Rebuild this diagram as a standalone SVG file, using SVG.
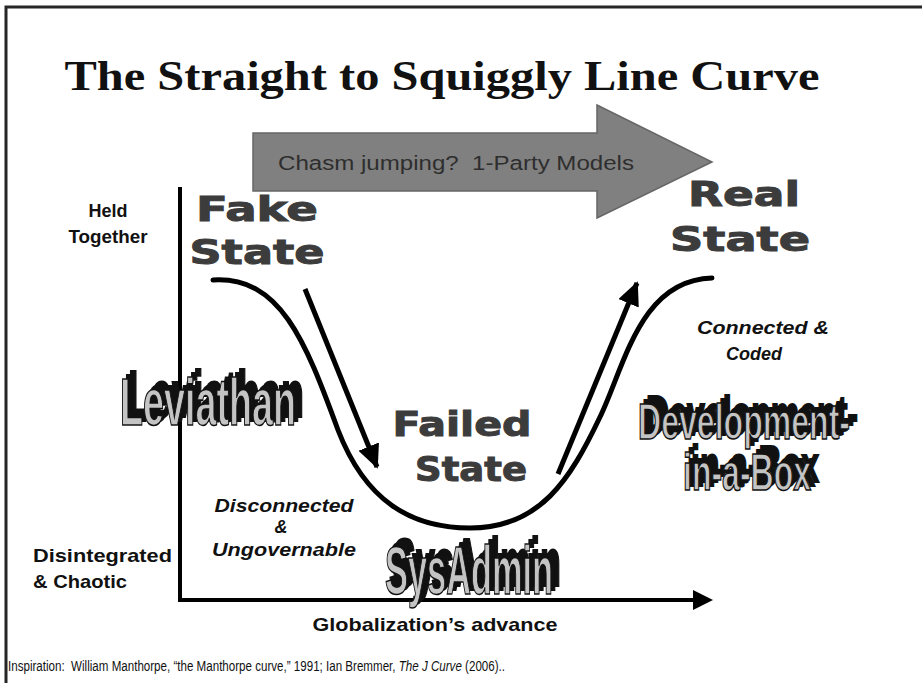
<svg xmlns="http://www.w3.org/2000/svg" width="922" height="683" viewBox="0 0 922 683">
<style>
.title{font-family:"Liberation Serif","Times New Roman",serif;font-weight:bold;font-size:42px;fill:#111}
.lab{font-family:"Liberation Sans",Arial,sans-serif;font-weight:bold;fill:#111}
.ital{font-family:"Liberation Sans",Arial,sans-serif;font-weight:bold;font-style:italic;font-size:18px;fill:#111}
.state{font-family:"DejaVu Sans","Liberation Sans",sans-serif;font-weight:bold;font-size:34px;fill:#3c3c3c;stroke:#3c3c3c;stroke-width:1}
.wa{font-family:"Liberation Sans Narrow","Liberation Sans",Arial,sans-serif;font-weight:bold}
.wash{fill:#111;stroke:#111;stroke-width:2}
.wafr{fill:#c4c4c4;stroke:#111;stroke-width:1.6}
.axis{stroke:#000;stroke-width:4;fill:none}
.curve{stroke:#000;stroke-width:5;fill:none;stroke-linecap:round}
.arr{stroke:#000;stroke-width:5;fill:none}
.pre{white-space:pre}
</style>
<defs>
<marker id="ah" markerUnits="userSpaceOnUse" markerWidth="26" markerHeight="22" refX="22" refY="11" orient="auto">
<path d="M0,0 L24,11 L0,22 Z" fill="#000"/>
</marker>
</defs>
<rect width="922" height="683" fill="#fff"/>
<path d="M6,683 V7 H922" fill="none" stroke="#262626" stroke-width="3"/>

<g id="title"><text class="title" x="442" y="90" text-anchor="middle" textLength="755" lengthAdjust="spacingAndGlyphs">The Straight to Squiggly Line Curve</text></g>

<g id="chasm-arrow">
<polygon points="253,133 597,133 597,105 712,162 597,218 597,191 253,191" fill="#808080" stroke="#666" stroke-width="1.5"/>
<text class="pre" xml:space="preserve" x="278" y="170" font-family="Liberation Sans, Arial, sans-serif" font-size="20" fill="#2e2e2e" textLength="356" lengthAdjust="spacingAndGlyphs">Chasm jumping?  1-Party Models</text>
</g>

<g id="axes">
<line class="axis" x1="180" y1="187" x2="180" y2="602"/>
<line class="axis" x1="178" y1="600" x2="696" y2="600"/>
<polygon points="693,590 713,600 693,610" fill="#000"/>
</g>

<g id="connectors">
<path class="curve" d="M213,280 C280,276 305,340 338,430 C365,500 410,528 470,528 C540,528 570,480 600,417 C625,365 640,280 712,278"/>
<line class="arr" x1="305" y1="289" x2="377" y2="467" marker-end="url(#ah)"/>
<line class="arr" x1="558" y1="474" x2="637" y2="283" marker-end="url(#ah)"/>
</g>

<g id="held-together">
<text class="lab" font-size="18" x="108" y="217" text-anchor="middle">Held</text>
<text class="lab" font-size="18" x="108" y="243" text-anchor="middle" textLength="79" lengthAdjust="spacingAndGlyphs">Together</text>
</g>
<g id="disintegrated">
<text class="lab" font-size="19" x="33" y="562" textLength="139" lengthAdjust="spacingAndGlyphs">Disintegrated</text>
<text class="lab" font-size="19" x="33" y="588" textLength="94" lengthAdjust="spacingAndGlyphs">&amp; Chaotic</text>
</g>

<g id="fake-state">
<text class="state" x="257" y="221" text-anchor="middle" textLength="122" lengthAdjust="spacingAndGlyphs">Fake</text>
<text class="state" x="257" y="264" text-anchor="middle" textLength="135" lengthAdjust="spacingAndGlyphs">State</text>
</g>
<g id="real-state">
<text class="state" x="744" y="206" text-anchor="middle" textLength="112" lengthAdjust="spacingAndGlyphs">Real</text>
<text class="state" x="740" y="251" text-anchor="middle" textLength="140" lengthAdjust="spacingAndGlyphs">State</text>
</g>
<g id="failed-state">
<text class="state" x="462" y="436" text-anchor="middle" textLength="139" lengthAdjust="spacingAndGlyphs">Failed</text>
<text class="state" x="471" y="481" text-anchor="middle" textLength="112" lengthAdjust="spacingAndGlyphs">State</text>
</g>

<g id="connected-coded">
<text class="ital" x="763" y="334" text-anchor="middle" textLength="132" lengthAdjust="spacingAndGlyphs">Connected &amp;</text>
<text class="ital" x="754" y="360" text-anchor="middle">Coded</text>
</g>
<g id="disconnected">
<text class="ital" x="284" y="512" text-anchor="middle" textLength="139" lengthAdjust="spacingAndGlyphs">Disconnected</text>
<text class="ital" x="281" y="533" text-anchor="middle">&amp;</text>
<text class="ital" x="284" y="556" text-anchor="middle" textLength="144" lengthAdjust="spacingAndGlyphs">Ungovernable</text>
</g>

<g id="leviathan">
<text class="wa wash" x="128" y="417" font-size="66" textLength="176" lengthAdjust="spacingAndGlyphs">Leviathan</text>
<text class="wa wash" x="124" y="421" font-size="66" textLength="176" lengthAdjust="spacingAndGlyphs">Leviathan</text>
<text class="wa wafr" x="120" y="425" font-size="66" textLength="176" lengthAdjust="spacingAndGlyphs">Leviathan</text>
</g>

<g id="development">
<text class="wa wash" x="646" y="431" font-size="50" textLength="212" lengthAdjust="spacingAndGlyphs">Development-</text>
<text class="wa wash" x="642" y="435" font-size="50" textLength="212" lengthAdjust="spacingAndGlyphs">Development-</text>
<text class="wa wafr" x="638" y="439" font-size="50" textLength="212" lengthAdjust="spacingAndGlyphs">Development-</text>
<text class="wa wash" x="691" y="482" font-size="52" textLength="128" lengthAdjust="spacingAndGlyphs">in-a-Box</text>
<text class="wa wash" x="687" y="486" font-size="52" textLength="128" lengthAdjust="spacingAndGlyphs">in-a-Box</text>
<text class="wa wafr" x="683" y="490" font-size="52" textLength="128" lengthAdjust="spacingAndGlyphs">in-a-Box</text>
</g>

<g id="sysadmin">
<text class="wa wash" x="393" y="586" font-size="68" textLength="168" lengthAdjust="spacingAndGlyphs">SysAdmin</text>
<text class="wa wash" x="389" y="590" font-size="68" textLength="168" lengthAdjust="spacingAndGlyphs">SysAdmin</text>
<text class="wa wafr" x="385" y="594" font-size="68" textLength="168" lengthAdjust="spacingAndGlyphs">SysAdmin</text>
</g>

<g id="x-label"><text class="lab" font-size="19" x="435" y="631" text-anchor="middle" textLength="245" lengthAdjust="spacingAndGlyphs">Globalization’s advance</text></g>

<g id="footer"><text class="pre" xml:space="preserve" x="8" y="671" font-family="Liberation Sans, Arial, sans-serif" font-size="14" fill="#111" textLength="497" lengthAdjust="spacingAndGlyphs">Inspiration:  William Manthorpe, “the Manthorpe curve,” 1991; Ian Bremmer, <tspan font-style="italic">The J Curve</tspan> (2006)..</text></g>
</svg>
